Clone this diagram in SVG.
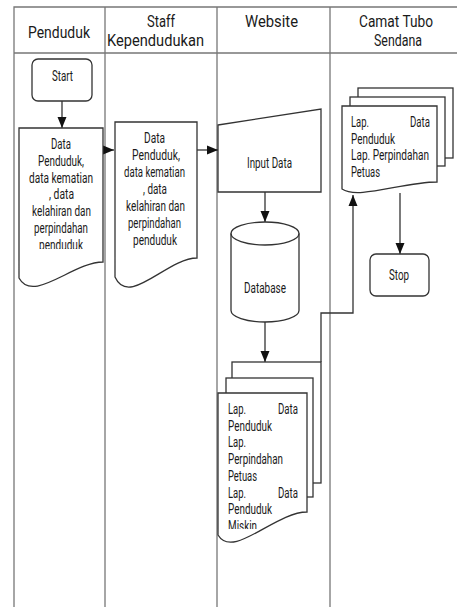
<svg xmlns="http://www.w3.org/2000/svg" width="457" height="607" viewBox="0 0 457 607">
<style>
.lane{fill:none;stroke:#777;stroke-width:1.3}
.shape{fill:#fff;stroke:#333;stroke-width:1.3}
.conn{fill:none;stroke:#333;stroke-width:1.3}
text{font-family:Roboto,"Liberation Sans",sans-serif;fill:#1a1a1a}
.h{font-size:17px}
.b{font-size:14px}
</style>
<defs>
<marker id="arr" markerUnits="userSpaceOnUse" markerWidth="12" markerHeight="10" refX="11" refY="5" orient="auto">
<path d="M0,0.5 L11,5 L0,9.5 Z" fill="#111"/>
</marker>
<clipPath id="clipP"><rect x="0" y="0" width="457" height="249"/></clipPath>
<clipPath id="clipW"><rect x="0" y="0" width="457" height="529"/></clipPath>
</defs>
<rect width="457" height="607" fill="#fff"/>
<g id="lanes">
<path class="lane" d="M14,607 V7 H460 M14,53 H460 M105,7 V607 M217,7 V607 M330,7 V607"/>
<text class="h" x="28" y="38" textLength="62" lengthAdjust="spacingAndGlyphs">Penduduk</text>
<text class="h" x="147" y="27" textLength="28" lengthAdjust="spacingAndGlyphs">Staff</text>
<text class="h" x="107" y="46" textLength="97" lengthAdjust="spacingAndGlyphs">Kependudukan</text>
<text class="h" x="245" y="27" textLength="53" lengthAdjust="spacingAndGlyphs">Website</text>
<text class="h" x="359" y="27" textLength="74" lengthAdjust="spacingAndGlyphs">Camat Tubo</text>
<text class="h" x="374" y="46" textLength="48" lengthAdjust="spacingAndGlyphs">Sendana</text>
</g>
<g id="connectors">
<line class="conn" x1="62" y1="101" x2="62" y2="128" marker-end="url(#arr)"/>
<line class="conn" x1="103" y1="150" x2="114" y2="150" marker-end="url(#arr)"/>
<line class="conn" x1="197" y1="150" x2="218" y2="150" marker-end="url(#arr)"/>
<line class="conn" x1="265" y1="192" x2="265" y2="222" marker-end="url(#arr)"/>
<line class="conn" x1="265" y1="322" x2="265" y2="362" marker-end="url(#arr)"/>
<line class="conn" x1="400" y1="193" x2="400" y2="254" marker-end="url(#arr)"/>
</g>
<g id="start">
<rect class="shape" x="32" y="59" width="60" height="42" rx="6"/>
<text class="b" x="52" y="81" textLength="21" lengthAdjust="spacingAndGlyphs">Start</text>
</g>
<g id="doc-penduduk">
<path class="shape" d="M19,128 H103 V262 C73,262 33,304 19,278 Z"/>
<g clip-path="url(#clipP)">
<text class="b" x="51" y="149" textLength="20" lengthAdjust="spacingAndGlyphs">Data</text>
<text class="b" x="38" y="165.7" textLength="46" lengthAdjust="spacingAndGlyphs">Penduduk,</text>
<text class="b" x="29" y="182.5" textLength="64" lengthAdjust="spacingAndGlyphs">data kematian</text>
<text class="b" x="49" y="199.2" textLength="25" lengthAdjust="spacingAndGlyphs">, data</text>
<text class="b" x="32" y="216" textLength="59" lengthAdjust="spacingAndGlyphs">kelahiran dan</text>
<text class="b" x="34" y="232.7" textLength="54" lengthAdjust="spacingAndGlyphs">perpindahan</text>
<text class="b" x="39" y="249.5" textLength="44" lengthAdjust="spacingAndGlyphs">penduduk</text>
</g>
</g>
<g id="doc-staff">
<path class="shape" d="M115,122 H197 V258 C167,258 129,308 115,277 Z"/>
<text class="b" x="144" y="143" textLength="21" lengthAdjust="spacingAndGlyphs">Data</text>
<text class="b" x="132" y="160" textLength="48" lengthAdjust="spacingAndGlyphs">Penduduk,</text>
<text class="b" x="124" y="177" textLength="61" lengthAdjust="spacingAndGlyphs">data kematian</text>
<text class="b" x="143" y="194" textLength="24" lengthAdjust="spacingAndGlyphs">, data</text>
<text class="b" x="126" y="211" textLength="59" lengthAdjust="spacingAndGlyphs">kelahiran dan</text>
<text class="b" x="128" y="228" textLength="53" lengthAdjust="spacingAndGlyphs">perpindahan</text>
<text class="b" x="133" y="245" textLength="44" lengthAdjust="spacingAndGlyphs">penduduk</text>
</g>
<g id="input-data">
<path class="shape" d="M218,125 L321,109 V192 H218 Z"/>
<text class="b" x="247" y="168" textLength="45" lengthAdjust="spacingAndGlyphs">Input Data</text>
</g>
<g id="database">
<path class="shape" d="M231,233.5 A34,11.5 0 0 1 299,233.5 V310.5 A34,11.5 0 0 1 231,310.5 Z"/>
<path class="conn" d="M231,233.5 A34,11.5 0 0 0 299,233.5"/>
<text class="b" x="244" y="293" textLength="42" lengthAdjust="spacingAndGlyphs">Database</text>
</g>
<g id="website-reports">
<rect class="shape" x="232" y="362" width="89" height="121"/>
<rect class="shape" x="226" y="378" width="87" height="119"/>
<path class="shape" d="M218,393 H307 V512 C275,512 233,560 218,535 Z"/>
<g clip-path="url(#clipW)">
<text class="b" x="228" y="414" textLength="18" lengthAdjust="spacingAndGlyphs">Lap.</text>
<text class="b" x="278" y="414" textLength="20" lengthAdjust="spacingAndGlyphs">Data</text>
<text class="b" x="228" y="430.7" textLength="44" lengthAdjust="spacingAndGlyphs">Penduduk</text>
<text class="b" x="228" y="447.4" textLength="18" lengthAdjust="spacingAndGlyphs">Lap.</text>
<text class="b" x="228" y="464.1" textLength="55" lengthAdjust="spacingAndGlyphs">Perpindahan</text>
<text class="b" x="228" y="480.8" textLength="29" lengthAdjust="spacingAndGlyphs">Petuas</text>
<text class="b" x="228" y="497.5" textLength="18" lengthAdjust="spacingAndGlyphs">Lap.</text>
<text class="b" x="278" y="497.5" textLength="20" lengthAdjust="spacingAndGlyphs">Data</text>
<text class="b" x="228" y="514.2" textLength="44" lengthAdjust="spacingAndGlyphs">Penduduk</text>
<text class="b" x="228" y="530.9" textLength="29" lengthAdjust="spacingAndGlyphs">Miskin</text>
</g>
</g>
<g id="connector-report">
<path class="conn" d="M321,362 V313 H353 V195" marker-end="url(#arr)"/>
</g>
<g id="camat-reports">
<rect class="shape" x="358" y="88" width="95" height="70"/>
<rect class="shape" x="350" y="97" width="95" height="69"/>
<path class="shape" d="M342,106 H437 V182 C403,182 358,200 342,189 Z"/>
<text class="b" x="351" y="127" textLength="18" lengthAdjust="spacingAndGlyphs">Lap.</text>
<text class="b" x="410" y="127" textLength="20" lengthAdjust="spacingAndGlyphs">Data</text>
<text class="b" x="351" y="143.5" textLength="44" lengthAdjust="spacingAndGlyphs">Penduduk</text>
<text class="b" x="351" y="160" textLength="78" lengthAdjust="spacingAndGlyphs">Lap. Perpindahan</text>
<text class="b" x="351" y="176.7" textLength="29" lengthAdjust="spacingAndGlyphs">Petuas</text>
</g>
<g id="stop">
<rect class="shape" x="370" y="254" width="59" height="42" rx="6"/>
<text class="b" x="389" y="280" textLength="20" lengthAdjust="spacingAndGlyphs">Stop</text>
</g>
</svg>
